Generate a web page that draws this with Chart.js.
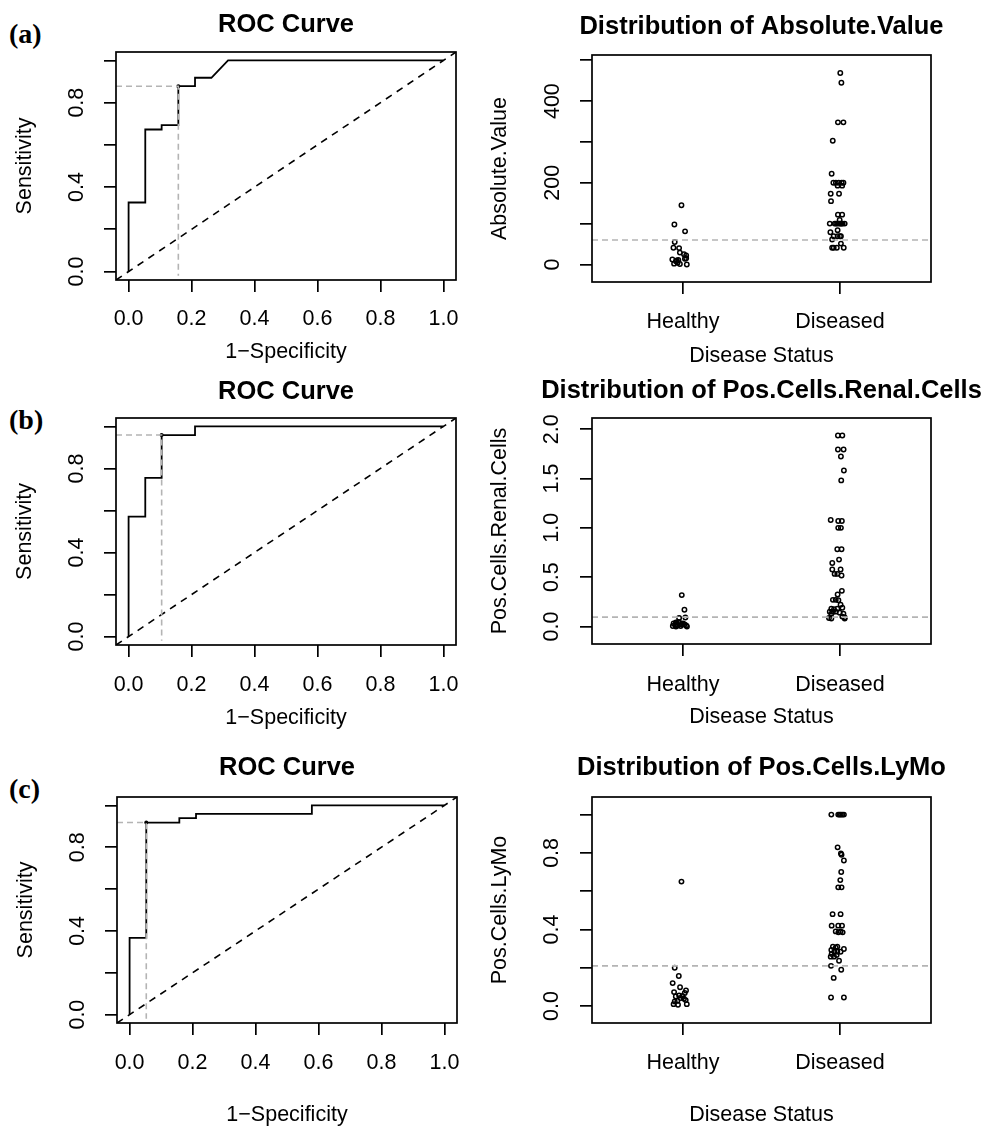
<!DOCTYPE html>
<html>
<head>
<meta charset="utf-8">
<script src="https://cdn.jsdelivr.net/npm/chart.js@4.4.1/dist/chart.umd.min.js"></script>
<style>
  html, body { margin: 0; padding: 0; background: #fff; }
  body { width: 989px; height: 1127px; position: relative; overflow: hidden; }
  canvas { position: absolute; }
  .tag { position: absolute; left: 9px; font: bold 28px/28px "Liberation Serif", "DejaVu Serif", serif; color: #000; }
</style>
</head>
<body>
<div class="tag" style="top:20px">(a)</div>
<div class="tag" style="top:406px">(b)</div>
<div class="tag" style="top:775px">(c)</div>

<canvas id="rocA" width="480" height="370" style="left:0;top:0"></canvas>
<canvas id="stripA" width="509" height="370" style="left:480px;top:0"></canvas>
<canvas id="rocB" width="480" height="370" style="left:0;top:370px"></canvas>
<canvas id="stripB" width="509" height="370" style="left:480px;top:370px"></canvas>
<canvas id="rocC" width="480" height="387" style="left:0;top:740px"></canvas>
<canvas id="stripC" width="509" height="387" style="left:480px;top:740px"></canvas>

<script>
// ---- data ----
const rocTicks = [0, 0.2, 0.4, 0.6, 0.8, 1.0];
const rocXLabels = ['0.0', '0.2', '0.4', '0.6', '0.8', '1.0'];
const rocYLabels = ['0.0', '', '0.4', '', '0.8', ''];
const rocLimits = [-0.04, 1.04];
const cutFloor = -0.02;

// (a) Absolute.Value
const rocAFpr  = [0, 0, 0.053, 0.053, 0.105, 0.105, 0.158, 0.158, 0.211, 0.211, 0.263, 0.316, 1.0];
const rocASens = [0, 0.327, 0.327, 0.673, 0.673, 0.694, 0.694, 0.878, 0.878, 0.918, 0.918, 1.0, 1.0];
const rocACut = [0.158, 0.878];

// (b) Pos.Cells.Renal.Cells
const rocBFpr  = [0, 0, 0.053, 0.053, 0.105, 0.105, 0.211, 0.211, 1.0];
const rocBSens = [0, 0.571, 0.571, 0.755, 0.755, 0.959, 0.959, 1.0, 1.0];
const rocBCut = [0.105, 0.959];

// (c) Pos.Cells.LyMo
const rocCFpr  = [0, 0, 0.053, 0.053, 0.158, 0.158, 0.211, 0.211, 0.579, 0.579, 1.0];
const rocCSens = [0, 0.367, 0.367, 0.918, 0.918, 0.939, 0.939, 0.959, 0.959, 1.0, 1.0];
const rocCCut = [0.053, 0.918];

const groupTicks = [1, 2];
const groupLabels = ['Healthy', 'Diseased'];
const groupLimits = [0.42, 2.58];

const absTicks = [0, 100, 200, 300, 400, 500];
const absLabels = ['0', '', '200', '', '400', ''];
const absLimits = [-43, 513];
const absCutoff = 60;
const absHealthy       = [145, 98, 81, 55, 41, 40, 29, 25, 22, 15, 14, 12, 11, 10, 8, 4, 2, 1, 0];
const absHealthyJitter = [-0.01, -0.055, 0.013, -0.053, -0.061, -0.025, -0.02, 0.006, 0.02, 0.02, 0.012, -0.068, -0.03, -0.04, -0.045, -0.035, -0.057, -0.02, 0.024];
const absDiseased       = [469, 445, 348, 348, 303, 222, 200, 200, 200, 200, 200, 193, 193, 173, 173, 155, 122, 122, 109,
                           100, 100, 100, 100, 100, 100, 100, 100, 100, 84, 79, 69, 69, 69, 69, 61, 51, 41, 41, 41, 41];
const absDiseasedJitter = [0.002, 0.009, -0.013, 0.022, -0.046, -0.053, -0.042, -0.026, -0.008, 0.011, 0.022, -0.015, 0.014, -0.059, -0.006, -0.057, -0.013, 0.014, -0.002,
                           -0.065, -0.034, -0.025, -0.017, -0.004, 0.004, 0.01, 0.017, 0.03, -0.015, -0.061, -0.04, -0.015, 0, 0.006, -0.05, 0.006, -0.05, -0.04, -0.02, 0.024];

const renalTicks = [0, 0.5, 1.0, 1.5, 2.0];
const renalLabels = ['0.0', '0.5', '1.0', '1.5', '2.0'];
const renalLimits = [-0.178, 2.114];
const renalCutoff = 0.095;
const renalHealthy       = [0.318, 0.17, 0.091, 0.085, 0.045, 0.04, 0.035, 0.03, 0.03, 0.025, 0.02, 0.02, 0.015, 0.01, 0.01, 0.005, 0.0, 0.0, 0.005];
const renalHealthyJitter = [-0.008, 0.009, 0.015, -0.025, -0.03, -0.045, -0.02, -0.06, 0.0, -0.04, -0.01, 0.01, -0.05, -0.035, 0.02, -0.015, -0.045, 0.025, -0.065];
const renalDiseased       = [1.937, 1.937, 1.795, 1.795, 1.724, 1.582, 1.481, 1.079, 1.07, 1.07, 1.0, 1.0, 0.783, 0.783, 0.678, 0.644, 0.577, 0.577,
                             0.533, 0.533, 0.516, 0.361, 0.324, 0.27, 0.27, 0.265, 0.22, 0.19, 0.18, 0.175, 0.18, 0.15, 0.15, 0.15, 0.14,
                             0.13, 0.13, 0.1, 0.09, 0.085, 0.08, 0.08];
const renalDiseasedJitter = [-0.013, 0.015, -0.013, 0.023, 0.006, 0.025, 0.008, -0.059, -0.011, 0.012, -0.011, 0.006, -0.017, 0.01, -0.006, -0.049, -0.049, 0.004,
                             -0.034, -0.017, 0.01, 0.012, -0.015, -0.045, -0.027, -0.01, 0.004, 0.015, -0.055, -0.038, -0.017, -0.065, -0.045, -0.027, -0.002,
                             -0.055, 0.022, 0.015, 0.03, -0.07, -0.055, 0.03];

const lymoTicks = [0, 0.2, 0.4, 0.6, 0.8, 1.0];
const lymoLabels = ['0.0', '', '0.4', '', '0.8', ''];
const lymoLimits = [-0.0885, 1.092];
const lymoCutoff = 0.21;
const lymoHealthy       = [0.65, 0.2, 0.157, 0.12, 0.098, 0.081, 0.073, 0.068, 0.055, 0.053, 0.05, 0.042, 0.038, 0.031, 0.027, 0.024, 0.01, 0.007, 0.01];
const lymoHealthyJitter = [-0.01, -0.053, -0.027, -0.066, -0.019, 0.019, -0.057, 0.011, -0.025, -0.004, -0.046, -0.015, 0.006, 0.017, -0.036, -0.053, -0.06, -0.032, 0.024];
const lymoDiseased       = [1.0, 1.0, 1.0, 1.0, 1.0, 1.0, 0.829, 0.797, 0.79, 0.76, 0.7, 0.658, 0.62, 0.62, 0.48, 0.48, 0.42, 0.42, 0.42,
                            0.39, 0.385, 0.39, 0.385, 0.31, 0.305, 0.31, 0.298, 0.293, 0.284, 0.284, 0.284, 0.267, 0.258, 0.258, 0.272, 0.237,
                            0.21, 0.19, 0.147, 0.045, 0.045];
const lymoDiseasedJitter = [-0.055, -0.011, -0.002, 0.006, 0.015, 0.025, -0.015, 0.006, 0.01, 0.025, 0.008, 0.002, -0.011, 0.01, -0.047, 0.004, -0.053, -0.011, 0.013,
                            -0.027, -0.01, 0.004, 0.017, -0.045, -0.027, -0.017, 0.025, -0.055, -0.036, -0.017, 0.004, -0.021, -0.038, -0.059, -0.053, -0.006,
                            -0.057, 0.008, -0.04, -0.057, 0.025];

// ---- look ----
const FONT = "'Liberation Sans', Arial, Helvetica, sans-serif";
const TICK_PX = 21.5;
const HALF_LINE = TICK_PX * 1.2 / 2;
const TICK_LEN = 12;
const GRAY = '#b4b4b4';

Chart.defaults.font.family = FONT;
Chart.defaults.color = '#000';

// box around the plot region + the main title centred over it
const frame = {
    id: 'frame',
    afterDraw(chart, args, opts) {
        const {ctx, chartArea: a} = chart;
        ctx.save();
        ctx.strokeStyle = '#000';
        ctx.lineWidth = 1.7;
        ctx.strokeRect(a.left, a.top, a.right - a.left, a.bottom - a.top);
        ctx.fillStyle = '#000';
        ctx.font = 'bold 25.5px ' + FONT;
        ctx.textAlign = 'center';
        ctx.textBaseline = 'middle';
        ctx.fillText(opts.text, (a.left + a.right) / 2, opts.y);
        ctx.restore();
    }
};

function widest(labels) {
    const ctx = document.createElement('canvas').getContext('2d');
    ctx.font = TICK_PX + 'px ' + FONT;
    return Math.max(...labels.map(s => ctx.measureText(s).width));
}

function axisOptions(g, xs, ys) {
    const c = g.canvas, b = g.box;
    const grid = {drawOnChartArea: false, drawTicks: true, tickLength: TICK_LEN, tickWidth: 1.7, tickColor: '#000', color: '#000', lineWidth: 1.7};
    return {
        responsive: false,
        animation: false,
        events: [],
        layout: {padding: {left: 0, top: b.T - c.y, right: c.x + c.w - b.R, bottom: 0}},
        plugins: {
            legend: {display: false},
            tooltip: {enabled: false},
            frame: {text: g.title, y: g.titleY - c.y}
        },
        scales: {
            x: {
                type: 'linear', min: xs.limits[0], max: xs.limits[1],
                afterBuildTicks: s => { s.ticks = xs.ticks.map(v => ({value: v})); },
                afterFit: s => { s.height = c.y + c.h - b.B; },
                grid: grid,
                border: {display: false},
                ticks: {
                    autoSkip: false, maxRotation: 0, font: {size: TICK_PX},
                    padding: g.xTickY - b.B - TICK_LEN - HALF_LINE,
                    callback: (v, i) => xs.labels[i]
                },
                title: {display: true, text: xs.title, font: {size: TICK_PX}, padding: {top: 0, bottom: c.y + c.h - g.xLabY - HALF_LINE}}
            },
            y: {
                type: 'linear', min: ys.limits[0], max: ys.limits[1],
                afterBuildTicks: s => { s.ticks = ys.ticks.map(v => ({value: v})); },
                afterFit: s => { s.width = b.L - c.x; },
                grid: grid,
                border: {display: false},
                ticks: {
                    autoSkip: false, minRotation: 90, maxRotation: 90, crossAlign: 'center', font: {size: TICK_PX},
                    padding: b.L - TICK_LEN - widest(ys.labels) / 2 - g.yTickX,
                    callback: (v, i) => ys.labels[i]
                },
                title: {display: true, text: ys.title, font: {size: TICK_PX}, padding: {top: g.yLabX - c.x - HALF_LINE, bottom: 0}}
            }
        }
    };
}

function rocChart(id, g, fpr, sens, cut) {
    const curve = fpr.map((x, i) => ({x: x, y: sens[i]}));
    new Chart(document.getElementById(id), {
        type: 'scatter',
        data: {
            datasets: [
                {data: [{x: rocLimits[0], y: cut[1]}, {x: cut[0], y: cut[1]}, {x: cut[0], y: cutFloor}],
                 showLine: true, borderColor: GRAY, borderDash: [6, 4], borderWidth: 1.6, pointRadius: 0, order: 0},
                {data: [{x: cut[0], y: cut[1]}], pointRadius: 2, backgroundColor: '#000', borderWidth: 0, order: 0},
                {data: curve, showLine: true, borderColor: '#000', borderWidth: 1.8, pointRadius: 0, order: 1},
                {data: [{x: rocLimits[0], y: rocLimits[0]}, {x: rocLimits[1], y: rocLimits[1]}],
                 showLine: true, borderColor: '#000', borderDash: [7, 6], borderWidth: 1.6, pointRadius: 0, order: 2}
            ]
        },
        options: axisOptions(g,
            {limits: rocLimits, ticks: rocTicks, labels: rocXLabels, title: '1\u2212Specificity'},
            {limits: rocLimits, ticks: rocTicks, labels: rocYLabels, title: 'Sensitivity'}),
        plugins: [frame]
    });
}

function stripChart(id, g, ys, healthy, healthyJitter, diseased, diseasedJitter, cutoff) {
    const pts = healthy.map((v, i) => ({x: groupTicks[0] + healthyJitter[i], y: v}))
        .concat(diseased.map((v, i) => ({x: groupTicks[1] + diseasedJitter[i], y: v})));
    new Chart(document.getElementById(id), {
        type: 'scatter',
        data: {
            datasets: [
                {data: [{x: groupLimits[0], y: cutoff}, {x: groupLimits[1], y: cutoff}],
                 showLine: true, borderColor: GRAY, borderDash: [6, 4], borderWidth: 1.6, pointRadius: 0, order: 0},
                {data: pts, pointStyle: 'circle', pointRadius: 2.2, borderWidth: 1.5, borderColor: '#000',
                 backgroundColor: 'rgba(0,0,0,0)', order: 1}
            ]
        },
        options: axisOptions(g,
            {limits: groupLimits, ticks: groupTicks, labels: groupLabels, title: 'Disease Status'},
            ys),
        plugins: [frame]
    });
}

// ---- panel placement (page pixels) ----
rocChart('rocA', {canvas: {x: 0, y: 0, w: 480, h: 370}, box: {L: 116, T: 52, R: 456, B: 280},
    title: 'ROC Curve', titleY: 25, xTickY: 319, xLabY: 352, yTickX: 77, yLabX: 25}, rocAFpr, rocASens, rocACut);
rocChart('rocB', {canvas: {x: 0, y: 370, w: 480, h: 370}, box: {L: 116, T: 418, R: 456, B: 645},
    title: 'ROC Curve', titleY: 392, xTickY: 685, xLabY: 718, yTickX: 77, yLabX: 25}, rocBFpr, rocBSens, rocBCut);
rocChart('rocC', {canvas: {x: 0, y: 740, w: 480, h: 387}, box: {L: 117, T: 797, R: 457, B: 1023},
    title: 'ROC Curve', titleY: 768, xTickY: 1063, xLabY: 1115, yTickX: 78, yLabX: 26}, rocCFpr, rocCSens, rocCCut);

stripChart('stripA', {canvas: {x: 480, y: 0, w: 509, h: 370}, box: {L: 592, T: 55, R: 931, B: 282},
    title: 'Distribution of Absolute.Value', titleY: 27, xTickY: 322, xLabY: 356, yTickX: 553, yLabX: 500},
    {limits: absLimits, ticks: absTicks, labels: absLabels, title: 'Absolute.Value'},
    absHealthy, absHealthyJitter, absDiseased, absDiseasedJitter, absCutoff);
stripChart('stripB', {canvas: {x: 480, y: 370, w: 509, h: 370}, box: {L: 592, T: 418, R: 931, B: 644},
    title: 'Distribution of Pos.Cells.Renal.Cells', titleY: 391, xTickY: 685, xLabY: 717, yTickX: 552, yLabX: 500},
    {limits: renalLimits, ticks: renalTicks, labels: renalLabels, title: 'Pos.Cells.Renal.Cells'},
    renalHealthy, renalHealthyJitter, renalDiseased, renalDiseasedJitter, renalCutoff);
stripChart('stripC', {canvas: {x: 480, y: 740, w: 509, h: 387}, box: {L: 592, T: 797, R: 931, B: 1023},
    title: 'Distribution of Pos.Cells.LyMo', titleY: 768, xTickY: 1063, xLabY: 1115, yTickX: 552, yLabX: 500},
    {limits: lymoLimits, ticks: lymoTicks, labels: lymoLabels, title: 'Pos.Cells.LyMo'},
    lymoHealthy, lymoHealthyJitter, lymoDiseased, lymoDiseasedJitter, lymoCutoff);
</script>
</body>
</html>
